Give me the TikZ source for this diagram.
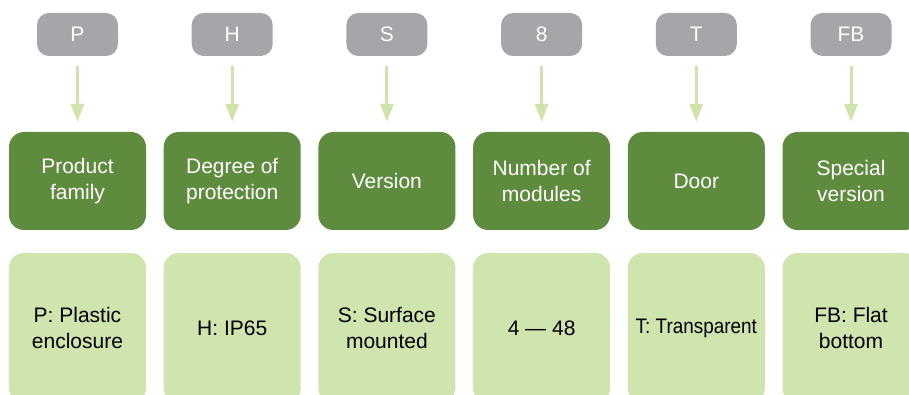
\documentclass[tikz,border=0pt]{standalone}
\usepackage{fontspec}
\usepackage{graphicx}
\setmainfont{Liberation Sans}
\usetikzlibrary{arrows.meta}
\definecolor{pillgray}{RGB}{166,166,170}
\definecolor{darkgreen}{RGB}{95,139,62}
\definecolor{lightgreen}{RGB}{208,228,174}
\definecolor{arrowgreen}{RGB}{206,228,170}
\tikzset{
  txt/.style={font=\fontsize{21}{25.5}\selectfont, align=center, inner sep=0pt},
  pill/.style={txt, fill=pillgray, text=white, rounded corners=12pt, minimum width=81pt, minimum height=43pt},
  catbox/.style={txt, fill=darkgreen, text=white, rounded corners=15pt, minimum width=137pt, minimum height=98pt},
  valbox/.style={txt, fill=lightgreen, text=black, rounded corners=15pt, minimum width=137pt, minimum height=150pt},
  conn/.style={draw=arrowgreen, line width=3pt, -{Triangle[width=13pt,length=18pt]}, shorten <=10pt, shorten >=10pt}
}
\begin{document}
\begin{tikzpicture}[x=1pt,y=-1pt]
\useasboundingbox (0,0) rectangle (909,395);
\clip (0,0) rectangle (909,395);
\foreach \i/\x/\code/\cat/\val in {
  1/77.5/P/{Product\\family}/{P: Plastic\\enclosure},
  2/232.2/H/{Degree of\\protection}/{H: IP65},
  3/386.9/S/{Version}/{S: Surface\\mounted},
  4/541.6/8/{Number of\\modules}/{4 — 48},
  5/696.3/T/{Door}/{\scalebox{0.9}[1]{T: Transparent}},
  6/851/FB/{Special\\version}/{FB: Flat\\bottom}} {
  \node[pill] (p\i) at (\x,34.5) {\code};
  \node[catbox] (c\i) at (\x,181) {\cat};
  \node[valbox] (v\i) at (\x,328) {\val};
  \draw[conn] (p\i.south) -- (c\i.north);
}
\end{tikzpicture}
\end{document}
